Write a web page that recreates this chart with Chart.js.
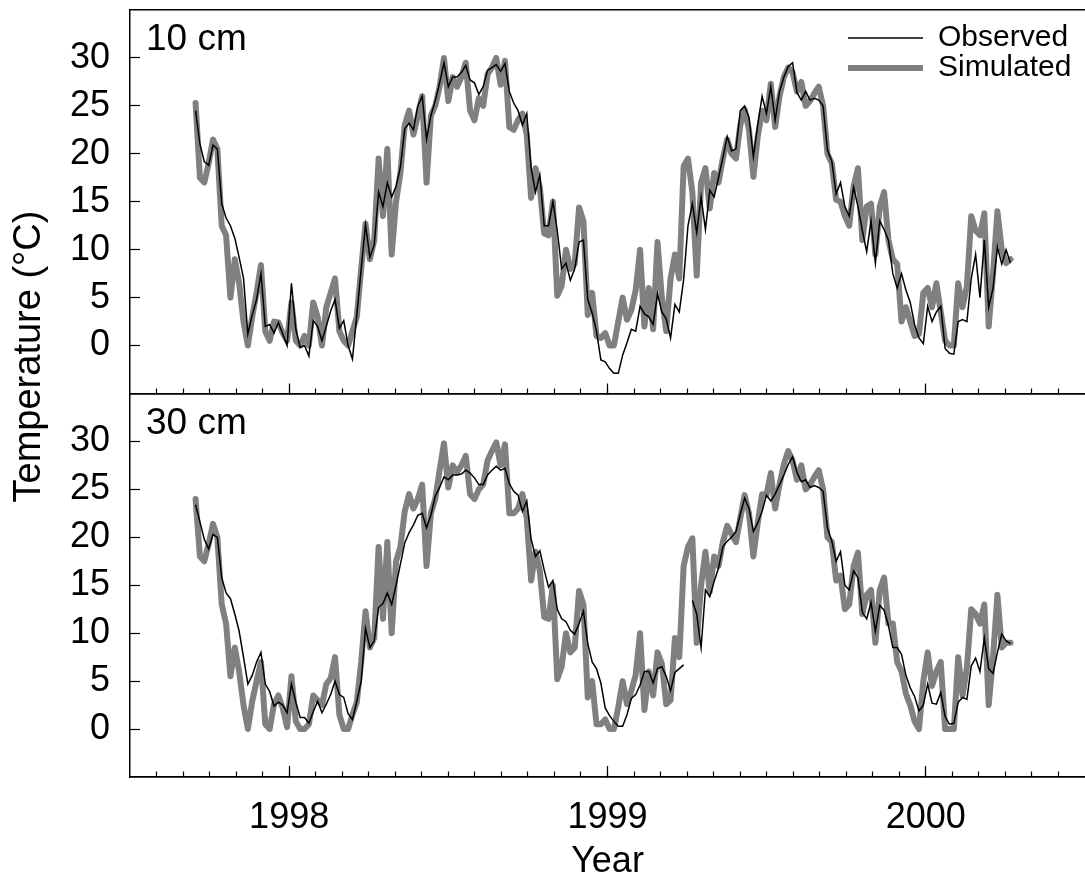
<!DOCTYPE html>
<html>
<head>
<meta charset="utf-8">
<script src="https://cdn.jsdelivr.net/npm/chart.js@4.4.1/dist/chart.umd.min.js"></script>
<style>
html,body{margin:0;padding:0;background:#fff}
#wrap{width:1085px;height:884px;position:relative}
</style>
</head>
<body>
<div id="wrap"><canvas id="chart"></canvas></div>
<script>
// Series, one value every 5 days from mid-Sept 1997
const startYear = 1997.706;
const stepDays = 5;

const obs10 = [24.5,21.0,19.2,18.8,20.9,20.5,14.8,13.3,12.5,11.2,
  9.2,7.0,1.2,3.2,4.8,7.5,2.0,2.2,1.3,2.4,
  1.2,0.0,6.5,1.7,-0.2,0.0,-1.1,2.6,2.0,0.5,
  2.0,3.6,4.8,1.8,2.6,0.0,-1.4,3.2,8.0,12.6,
  9.2,10.5,16.0,14.5,17.0,15.5,16.6,18.6,22.6,23.2,
  22.5,25.0,26.0,21.5,24.0,25.5,27.4,29.5,27.0,28.0,
  28.0,28.5,29.2,27.7,27.4,26.2,27.0,28.7,29.0,29.3,
  28.6,29.4,26.5,25.3,24.5,23.0,24.2,18.5,16.0,17.8,
  12.5,12.5,15.0,12.0,8.0,8.6,6.8,8.0,10.8,11.0,
  4.8,3.4,1.5,-1.5,-1.7,-2.4,-2.9,-2.9,-1.0,0.3,
  1.7,1.5,4.1,3.3,3.0,2.2,5.4,3.5,2.8,0.8,
  4.3,3.5,6.9,12.5,14.8,11.8,15.5,12.1,16.2,15.5,
  17.5,19.6,21.8,20.3,20.5,24.5,25.0,23.8,19.7,23.0,
  26.0,24.2,27.0,23.5,26.5,28.0,29.1,29.5,26.4,25.6,
  26.5,25.6,25.8,25.6,25.0,20.4,19.2,15.8,17.0,14.5,
  13.5,16.5,14.5,12.0,9.8,13.0,8.6,13.0,12.1,11.0,
  7.5,6.0,7.5,5.8,4.5,2.2,0.8,0.2,4.1,2.5,
  3.5,4.1,-0.3,-0.8,-0.9,2.5,2.7,2.5,7.0,9.5,
  5.0,11.0,4.0,6.0,10.3,8.5,10.0,8.6];

const sim10 = [25.3,17.5,17.0,19.0,21.5,20.5,12.5,11.5,5.0,9.0,
  6.5,2.5,0.0,3.0,5.5,8.4,1.5,0.5,2.5,2.4,
  1.3,0.5,4.5,0.5,0.0,1.0,0.0,4.5,3.0,0.0,
  4.0,5.5,7.0,1.5,0.5,0.0,1.5,3.0,8.0,12.7,
  9.0,11.0,19.5,13.5,20.5,9.5,15.0,18.0,23.0,24.5,
  22.0,24.0,26.0,17.0,24.0,25.0,27.0,30.0,25.5,28.0,
  27.0,28.0,29.5,24.5,23.5,25.8,25.0,28.3,29.0,30.0,
  27.2,29.7,22.8,22.5,23.5,24.2,22.0,15.4,18.5,16.5,
  11.7,11.5,15.0,5.2,6.2,10.0,8.0,8.5,14.4,13.0,
  3.2,5.5,1.0,0.8,1.3,0.0,0.0,2.5,5.0,2.7,
  3.7,5.8,10.0,2.0,6.0,1.7,10.8,5.0,1.5,7.0,
  9.5,7.0,18.7,19.5,16.0,7.3,17.0,18.5,14.3,18.0,
  17.0,19.5,21.5,20.0,19.5,23.0,24.6,22.5,17.6,21.8,
  24.5,23.5,27.3,22.8,26.0,28.0,29.0,28.5,26.5,27.5,
  25.0,25.5,26.3,27.0,25.0,20.0,19.0,15.2,15.0,13.5,
  12.5,16.6,18.5,11.0,14.5,14.8,9.5,14.5,16.0,11.0,
  9.0,8.5,2.5,4.0,2.5,1.0,1.2,5.5,6.0,4.0,
  6.5,3.5,0.5,0.0,0.0,6.5,4.0,6.2,13.5,12.0,
  11.5,13.8,2.0,7.5,14.0,10.0,8.6,9.0];

const obs30 = [23.4,21.6,19.8,18.8,20.3,20.0,15.8,14.2,13.6,12.0,
  10.2,7.5,4.7,5.6,7.0,8.0,4.7,3.9,2.4,2.8,
  2.5,1.7,4.7,2.8,1.2,1.2,0.6,1.8,2.9,1.7,
  2.6,3.6,5.0,3.6,3.3,1.6,1.0,2.9,5.0,10.5,
  8.5,9.2,12.7,13.1,14.2,13.0,15.0,17.2,19.4,20.5,
  21.3,22.3,22.5,21.0,22.3,24.3,25.2,26.3,26.0,26.5,
  26.5,26.6,27.0,26.7,26.2,25.5,25.5,26.5,27.0,27.4,
  27.0,27.2,25.6,24.8,24.4,22.7,23.8,19.8,18.0,18.6,
  16.6,14.8,15.5,12.5,11.5,11.2,10.3,9.9,11.0,12.3,
  8.9,7.0,6.3,4.8,2.2,1.4,0.8,0.3,0.3,1.5,
  3.2,3.6,4.6,6.0,6.0,4.8,6.3,6.5,5.5,4.0,
  5.9,6.3,6.7,null,13.4,12.0,8.5,14.5,13.8,15.4,
  16.8,19.0,19.6,20.0,20.6,22.4,24.1,23.0,20.6,21.5,
  22.7,24.4,23.8,24.5,25.5,26.5,27.6,28.4,26.8,25.8,
  26.0,25.2,25.4,25.2,24.8,21.0,19.6,17.5,18.5,15.0,
  14.5,16.5,15.8,12.2,11.5,13.2,10.2,12.9,12.4,10.8,
  8.5,8.5,7.8,5.6,4.3,3.4,1.9,2.5,4.7,2.7,
  2.6,3.8,1.3,0.5,0.6,2.8,3.3,3.1,6.6,7.4,
  6.0,9.5,6.3,5.8,8.0,9.9,9.2,8.9];

const sim30 = [24.0,18.0,17.5,19.3,21.4,20.0,13.0,11.0,5.5,8.5,
  6.0,2.5,0.0,2.9,5.0,7.0,0.5,0.0,2.6,3.5,
  2.2,0.2,5.5,0.8,0.0,0.0,0.5,3.5,3.0,2.5,
  4.7,5.3,7.5,1.5,0.0,0.0,1.5,2.8,7.0,12.3,
  8.5,9.5,19.0,11.5,19.5,10.0,17.5,19.0,22.7,24.5,
  23.0,24.0,25.5,17.0,22.5,24.0,27.0,29.8,25.2,27.5,
  26.8,27.5,28.5,24.5,24.0,25.0,25.5,28.0,29.0,29.9,
  27.5,29.7,22.5,22.5,23.0,24.5,22.0,15.5,18.5,16.5,
  11.7,11.5,15.0,5.2,6.5,10.0,8.0,8.5,14.4,13.0,
  3.3,5.0,0.5,0.5,1.0,0.0,0.0,2.3,5.0,2.6,
  4.0,5.7,10.0,2.0,6.0,3.5,8.0,6.8,2.6,3.0,
  9.5,7.5,17.0,19.0,19.9,9.0,15.0,18.5,14.3,18.0,
  17.0,19.5,21.2,20.3,19.5,22.0,24.4,22.5,18.0,21.5,
  24.5,24.4,26.7,23.0,25.5,27.6,29.0,28.0,26.0,27.5,
  25.0,25.5,26.3,27.0,25.0,20.0,19.5,15.5,16.0,12.5,
  13.0,17.0,18.4,12.0,14.0,14.5,9.0,14.5,15.8,11.0,
  11.0,7.0,6.0,3.7,2.5,0.8,0.0,5.0,8.0,4.5,
  6.0,7.0,0.0,0.0,0.0,7.5,3.5,6.4,12.5,12.0,
  11.0,13.0,2.5,7.5,14.0,8.5,9.0,9.0];

const yearTicks = [1998, 1999, 2000];
const tempTicks = [0, 5, 10, 15, 20, 25, 30];
const depthLabels = ['10 cm', '30 cm'];
const seriesNames = ['Observed', 'Simulated'];

// minor ticks, one a month
const monthTicks = [];
for (let m = 1; m < 36; m++) monthTicks.push(1997.5 + m / 12);

const FONT = "'Liberation Sans', Arial, Helvetica, sans-serif";
Chart.defaults.font.family = FONT;
Chart.defaults.color = '#000';

function pts(vals){ return vals.map((v,i)=>({x: startYear + i*stepDays/365.25, y: v})); }
function noPad(s){ s.paddingTop=0; s.paddingBottom=0; s.paddingLeft=0; s.paddingRight=0; }

function obsSet(vals, axis){
  return {label:seriesNames[0], data:pts(vals), xAxisID:'x', yAxisID:axis, borderColor:'#000', backgroundColor:'#000',
    borderWidth:1.5, pointRadius:0, tension:0, spanGaps:false};
}
function simSet(vals, axis){
  return {label:seriesNames[1], data:pts(vals), xAxisID:'x', yAxisID:axis, borderColor:'#808080', backgroundColor:'#808080',
    borderWidth:6, borderCapStyle:'round', borderJoinStyle:'round', pointRadius:0, tension:0};
}

// extra x axes that only carry tick marks / frame lines
function tickAxis(pos, ticks, len, showTicks){
  return {type:'linear', axis:'x', position:pos, min:1997.5, max:2000.5,
    afterBuildTicks: s => { s.ticks = ticks.map(v => ({value:v})); },
    afterFit: noPad,
    ticks:{display:false},
    grid:{display:showTicks, drawOnChartArea:false, drawTicks:true, tickLength:len, tickColor:'#000', tickWidth:1.2},
    border:{display:true, color:'#000', width:1.5}};
}
function yAxis(){
  return {type:'linear', position:'left', stack:'panels', stackWeight:1, min:-5, max:35,
    afterBuildTicks: s => { s.ticks = tempTicks.map(v => ({value:v})); },
    afterFit: s => { s.width = 70; noPad(s); },
    ticks:{autoSkip:false, padding:30, color:'#000', font:{size:36}},
    grid:{drawOnChartArea:false, tickLength:-10, tickColor:'#000', tickWidth:1.2},
    border:{color:'#000', width:1.5}};
}

// legend sits inside the top panel, upper right
const legendMover = {
  id:'legendMover',
  afterLayout(chart){
    const lg = chart.legend; if(!lg) return;
    lg.left = 848; lg.top = 23; lg.right = lg.left + lg.width + 20; lg.bottom = lg.top + 70;
  }
};
// "10 cm" / "30 cm" tags
const panelLabels = {
  id:'panelLabels',
  afterDraw(chart){
    const {ctx, chartArea} = chart;
    ctx.save(); ctx.font = '37px ' + FONT; ctx.fillStyle = '#000'; ctx.textBaseline = 'alphabetic';
    ['yTop','yBot'].forEach((id,k) => { ctx.fillText(depthLabels[k], chartArea.left + 16, chart.scales[id].top + 40); });
    ctx.restore();
  }
};

new Chart(document.getElementById('chart'), {
  type:'line',
  data:{datasets:[obsSet(obs10,'yTop'), simSet(sim10,'yTop'), obsSet(obs30,'yBot'), simSet(sim30,'yBot')]},
  options:{
    responsive:true, maintainAspectRatio:false, animation:false,
    layout:{padding:{top:10, right:-5, bottom:0, left:0}},
    plugins:{
      tooltip:{enabled:false},
      legend:{position:'chartArea', align:'start',
        labels:{filter: it => it.datasetIndex < 2, usePointStyle:true, pointStyle:'line', pointStyleWidth:75,
          boxHeight:30, padding:0, color:'#000', font:{size:30}}}
    },
    scales:{
      x:{type:'linear', position:'bottom', min:1997.5, max:2000.5,
        afterBuildTicks: s => { s.ticks = yearTicks.map(v => ({value:v})); },
        afterFit: s => { s.height = 107; noPad(s); },
        ticks:{autoSkip:false, maxRotation:0, padding:30, color:'#000', font:{size:36}, callback: v => String(v)},
        grid:{drawOnChartArea:false, tickLength:-11, tickColor:'#000', tickWidth:1.2},
        border:{color:'#000', width:1.5},
        title:{display:true, text:'Year', color:'#000', font:{size:36}, padding:{top:0, bottom:0}}},
      xMonthBot: tickAxis({yBot:-5}, monthTicks, -6, true),
      xYearMid: tickAxis({yTop:-5}, yearTicks, -11, true),
      xMonthMid: tickAxis({yTop:-5}, monthTicks, -6, true),
      xTopLine: tickAxis({yTop:35}, yearTicks, 0, false),
      yBot: yAxis(),
      yTop: yAxis(),
      yTitle:{type:'linear', position:'left', weight:10, min:0, max:1,
        afterFit: s => { s.width = 60; noPad(s); },
        ticks:{display:false}, grid:{display:false}, border:{display:false},
        title:{display:true, text:'       Temperature (°C)', color:'#000', font:{size:38}, padding:{top:7, bottom:0}}}
    }
  },
  plugins:[legendMover, panelLabels]
});
</script>
</body>
</html>
